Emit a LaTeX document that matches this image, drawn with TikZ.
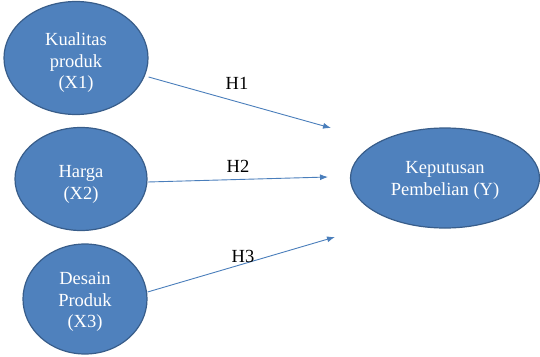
\documentclass[tikz,border=0pt]{standalone}
\usepackage{fontspec}
\setmainfont{Liberation Serif}
\usepackage{xcolor}
\usetikzlibrary{positioning, arrows.meta, shapes.geometric}

\definecolor{varfill}{HTML}{4F81BD}
\definecolor{vardraw}{HTML}{385D8A}
\definecolor{pathline}{HTML}{4A7EBB}

% lines of a variable, lowered a little inside its ellipse
\newcommand{\vartext}[2][0pt]{\raisebox{-#1}[\height][\depth]{\begin{tabular}{@{}c@{}}#2\end{tabular}}}

\begin{document}
\begin{tikzpicture}[
    x=1pt, y=-1pt,
    every node/.style={font=\fontsize{18.5}{21.5}\selectfont},
    var/.style={ellipse, draw=vardraw, fill=varfill, line width=1.2pt, text=white, inner sep=0pt},
    hyp/.style={text=black, inner sep=0pt},
    path/.style={-{Latex[length=8pt, width=6pt]}, draw=pathline, line width=0.9pt}
]
\useasboundingbox (0,0) rectangle (540,356);

% Variables
\node[var, minimum width=144pt, minimum height=113pt] (x1) at (76,58) {\vartext[5pt]{Kualitas\\produk\\(X1)}};
\node[var, minimum width=132pt, minimum height=103pt] (x2) at (81,179) {\vartext[5pt]{Harga\\(X2)}};
\node[var, minimum width=124pt, minimum height=110pt] (x3) at (85,299) {\vartext[3pt]{Desain\\Produk\\(X3)}};
\node[var, minimum width=189pt, minimum height=100pt] (y) at (445,178) {\vartext[2pt]{Keputusan\\Pembelian (Y)}};

% Arrow ends
\coordinate (h1end) at (331,128);
\coordinate (h2end) at (328,177);
\coordinate (h3end) at (335,237);

% Arrows
\draw[path] (x1.east |- 0,77) -- (h1end);
\draw[path] (x2.east |- 0,182) -- (h2end);
\draw[path] (x3.east |- 0,292) -- (h3end);

% Labels
\node[hyp] (h1) at (237,83) {H1};
\node[hyp] (h2) at (238,166) {H2};
\node[hyp] (h3) at (243,256) {H3};

\end{tikzpicture}
\end{document}
